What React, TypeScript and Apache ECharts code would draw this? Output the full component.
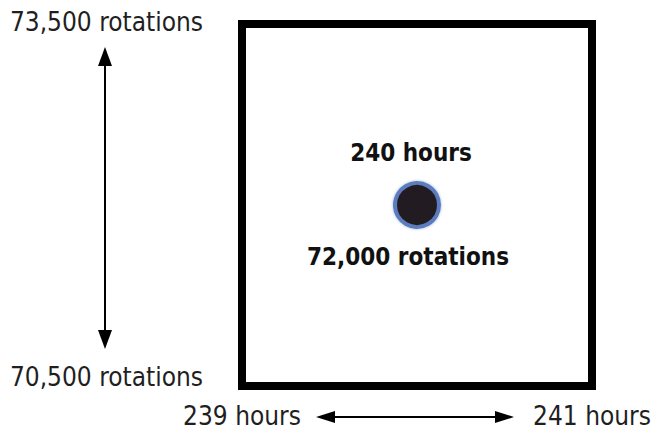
import React, { useEffect, useRef } from "react";
import * as echarts from "echarts";

const hourRange = [239, 241];
const rotationRange = [70500, 73500];
const hourTicks = ["239 hours", "241 hours"];
const rotationTicks = ["70,500 rotations", "73,500 rotations"];
const pointHours = [240];
const pointRotations = [72000];
const pointHourLabels = ["240 hours"];
const pointRotationLabels = ["72,000 rotations"];

const FONT = '"DejaVu Sans Condensed", "DejaVu Sans", sans-serif';
const TXT = "#1f1f1f";

export default function App() {
  const ref = useRef<HTMLDivElement>(null);
  useEffect(() => {
    const chart = echarts.init(ref.current!, null, { renderer: "svg" });
    const pts = pointHours.map((h, i) => [h, pointRotations[i]]);
    chart.setOption({
      animation: false,
      backgroundColor: "#ffffff",
      grid: {
        left: 242,
        right: 69,
        top: 24,
        bottom: 45,
        show: true,
        borderWidth: 8,
        borderColor: "#000000",
        backgroundColor: "transparent",
      },
      xAxis: {
        type: "value",
        min: hourRange[0],
        max: hourRange[1],
        interval: 1,
        axisLine: { show: false },
        axisTick: { show: false },
        splitLine: { show: false },
        axisLabel: {
          margin: 17,
          fontFamily: FONT,
          fontSize: 26,
          color: TXT,
          formatter: (v: number) =>
            v === hourRange[0] ? hourTicks[0] : v === hourRange[1] ? hourTicks[1] : "",
        },
      },
      yAxis: {
        type: "value",
        min: rotationRange[0],
        max: rotationRange[1],
        interval: 1500,
        axisLine: { show: false },
        axisTick: { show: false },
        splitLine: { show: false },
        axisLabel: {
          margin: 39,
          fontFamily: FONT,
          fontSize: 26,
          color: TXT,
          formatter: (v: number) =>
            v === rotationRange[0]
              ? "{lo|" + rotationTicks[0] + "}"
              : v === rotationRange[1]
              ? "{hi|" + rotationTicks[1] + "}"
              : "",
          rich: {
            lo: { fontFamily: FONT, fontSize: 26, color: TXT, padding: [0, 0, 18, 0] },
            hi: { fontFamily: FONT, fontSize: 26, color: TXT, padding: [0, 0, 4, 0] },
          },
        },
      },
      series: [
        {
          type: "scatter",
          data: pts,
          symbolSize: 44,
          itemStyle: {
            color: "#231f20",
            opacity: 1,
            borderColor: "#5b7cc0",
            borderWidth: 4,
            shadowBlur: 3,
            shadowColor: "#9fb4dc",
          },
          emphasis: { disabled: true },
          label: {
            show: true,
            position: "top",
            distance: 16,
            offset: [-6, 0],
            fontFamily: FONT,
            fontWeight: "bold",
            fontSize: 24,
            color: "#111111",
            opacity: 1,
            formatter: (p: any) => pointHourLabels[p.dataIndex],
          },
          z: 3,
        },
        {
          type: "scatter",
          data: pts,
          symbolSize: 44,
          itemStyle: { color: "transparent", opacity: 1 },
          emphasis: { disabled: true },
          label: {
            show: true,
            position: "bottom",
            distance: 18,
            offset: [-9, 0],
            fontFamily: FONT,
            fontWeight: "bold",
            fontSize: 24,
            color: "#111111",
            opacity: 1,
            formatter: (p: any) => pointRotationLabels[p.dataIndex],
          },
          z: 2,
        },
      ],
      graphic: [
        { type: "line", shape: { x1: 105, y1: 62, x2: 105, y2: 334 }, style: { stroke: "#000", lineWidth: 2 } },
        { type: "polygon", shape: { points: [[105, 47], [98, 66], [112, 66]] }, style: { fill: "#000" } },
        { type: "polygon", shape: { points: [[105, 349], [98, 330], [112, 330]] }, style: { fill: "#000" } },
        { type: "line", shape: { x1: 332, y1: 417, x2: 498, y2: 417 }, style: { stroke: "#000", lineWidth: 2 } },
        { type: "polygon", shape: { points: [[316, 417], [335, 411], [335, 423]] }, style: { fill: "#000" } },
        { type: "polygon", shape: { points: [[514, 417], [495, 411], [495, 423]] }, style: { fill: "#000" } },
      ],
    });
    return () => chart.dispose();
  }, []);
  return (
    <div
      ref={ref}
      style={{ position: "fixed", left: 0, top: 0, width: 661, height: 431, background: "#fff" }}
    />
  );
}
